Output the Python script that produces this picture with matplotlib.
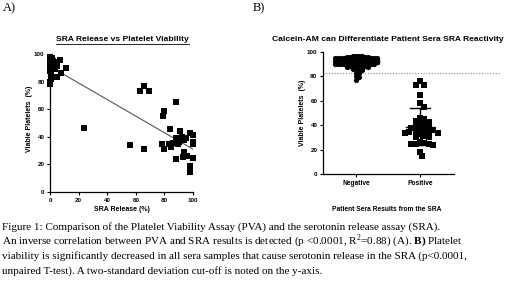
import numpy as np
import matplotlib
matplotlib.use("Agg")
import matplotlib.pyplot as plt
from matplotlib.lines import Line2D

plt.rcParams['font.family'] = ['Liberation Sans', 'DejaVu Sans']
plt.rcParams['mathtext.fontset'] = 'custom'
plt.rcParams['mathtext.rm'] = 'Liberation Serif'
plt.rcParams['mathtext.bf'] = 'Liberation Serif:bold'

# Panel A: SRA release vs viable platelets
sra_release = [0, 0, 0.5, 0, 1, 0, 1.5, 2, 3, 2, 3.5, 4, 5, 1, 7, 11, 8, 4.7, 1, 0, 0, 2.5, 0.5,
               24, 56, 63, 65.4, 69, 66, 80, 79, 88, 78, 79.4, 83.6, 83, 84.6, 86, 88, 88, 89.5,
               90.6, 91, 92, 93.5, 93.5, 93, 95, 95.8, 98, 97.7, 97.7, 100, 100, 100, 100, 90, 89]
viable = [98, 96, 94, 92, 90, 88, 97, 95, 93, 91, 89, 94, 91, 86, 95.6, 89.6, 86, 83.5, 82, 80, 78, 92, 89,
          46.5, 34.4, 73.4, 76.8, 73.4, 31, 59, 55, 65, 35, 31, 46, 35, 32.4, 35.6, 24, 39.5, 35,
          39.5, 44, 40, 37.5, 29, 25.4, 39, 26.4, 43, 19, 14.5, 41, 36, 35, 25, 36, 37]
fit_x = [0, 100]
fit_y = [91, 31]

# Panel B: viable platelets by SRA result
groups = ['Negative', 'Positive']
negative = [97, 97, 96.5, 96.5, 96, 96, 96, 96, 95.5, 95.5, 95.5, 95, 95, 95, 95, 94.5, 94.5,
            94.5, 94, 94, 94, 94, 93.5, 93.5, 93.5, 93.5, 93, 93, 93, 93, 93, 92.5, 92.5, 92.5,
            92.5, 92, 92, 92, 92, 92, 91.5, 91.5, 91.5, 91.5, 91, 91, 91, 91, 90.5, 90.5, 90.5,
            90, 90, 90, 89.5, 89.5, 89, 89, 88.5, 88.5, 88, 87.5, 87, 86.5, 86, 85.5,
            83, 82.5, 80.3, 79.3, 77]
positive = [76, 73, 73, 65, 58, 55, 46, 45.5, 43.5, 43, 41, 40, 39, 39, 38, 37, 36.5, 35, 35,
            34.5, 34.5, 34, 34, 33, 31, 30.5, 30, 26, 25.5, 25, 25, 24.5, 24, 18, 14.5]
cutoff = 83

caption = [
    "Figure 1: Comparison of the Platelet Viability Assay (PVA) and the serotonin release assay (SRA).",
    r"An inverse correlation between PVA and SRA results is detected (p <0.0001, R$^{2}$=0.88) (A). $\mathbf{B)}$ Platelet",
    "viability is significantly decreased in all sera samples that cause serotonin release in the SRA (p<0.0001,",
    "unpaired T-test). A two-standard deviation cut-off is noted on the y-axis.",
]


def swarm(ax, center, values, diam, maxw):
    # simple beeswarm in pixel space, points pushed to the gutter when too wide
    pts = ax.transData.transform([(center, v) for v in values])
    cx = pts[0, 0]
    placed = []
    xs = []
    for y in pts[:, 1]:
        step = diam * 0.5
        k = 0
        while True:
            off = ((k + 1) // 2) * step * (1 if k % 2 else -1)
            if abs(off) > maxw:
                off = maxw * np.sign(off)
                break
            if all((off - px) ** 2 + (y - py) ** 2 >= diam ** 2 for px, py in placed):
                break
            k += 1
        placed.append((off, y))
        xs.append(cx + off)
    return ax.transData.inverted().transform(np.column_stack([xs, pts[:, 1]]))


def style_axis(ax):
    ax.spines['top'].set_visible(False)
    ax.spines['right'].set_visible(False)
    for s in ['left', 'bottom']:
        ax.spines[s].set_linewidth(0.9)
    ax.tick_params(length=2.5, width=0.8, pad=1.5, labelsize=4.5)
    ax.set_yticks(range(0, 101, 20))
    for lab in ax.get_yticklabels() + ax.get_xticklabels():
        lab.set_fontweight('bold')


fig = plt.figure(figsize=(5.2, 2.96), dpi=100)

# ---- panel A ----
axA = fig.add_axes([0.0962, 0.3514, 0.275, 0.466])
axA.scatter(sra_release, viable, marker='s', s=16, c='black', linewidths=0, clip_on=False, zorder=3)
axA.plot(fit_x, fit_y, color='#555555', lw=0.8, zorder=2)
axA.set_xlim(0, 100)
axA.set_ylim(0, 100)
axA.set_xticks(range(0, 101, 20))
style_axis(axA)

# ---- panel B ----
axB = fig.add_axes([0.621, 0.412, 0.252, 0.412])
axB.set_xlim(-0.516, 1.53)
axB.set_ylim(0, 100)
neg_xy = swarm(axB, 0, sorted(negative, reverse=True), 3.0, 21)
pos_xy = swarm(axB, 1, sorted(positive, reverse=True), 4.4, 20)
axB.scatter(neg_xy[:, 0], neg_xy[:, 1], marker='o', s=14, c='black', linewidths=0, clip_on=False, zorder=3)
axB.scatter(pos_xy[:, 0], pos_xy[:, 1], marker='s', s=13, c='black', linewidths=0, clip_on=False, zorder=3)
for i, vals in enumerate([negative, positive]):
    m = np.mean(vals)
    sd = np.std(vals, ddof=1)
    axB.plot([i - 0.22, i + 0.22], [m, m], color='black', lw=1.0, zorder=4)
    axB.plot([i, i], [m - sd, m + sd], color='black', lw=1.0, zorder=4)
    for yv in (m - sd, m + sd):
        axB.plot([i - 0.16, i + 0.16], [yv, yv], color='black', lw=1.0, zorder=4)
axB.plot([-0.516, 2.25], [cutoff, cutoff], color='#888888', lw=0.8, ls=(0, (1, 1.5)), clip_on=False, zorder=1)
axB.set_xticks([0, 1])
axB.set_xticklabels(groups)
style_axis(axB)
for lab in axB.get_xticklabels():
    lab.set_fontsize(4.8)

# titles and labels
tA = fig.text(0.235, 0.868, "SRA Release vs Platelet Viability", ha='center', va='center',
              fontsize=6.1, fontweight='bold')
fig.text(0.746, 0.868, "Calcein-AM can Differentiate Patient Sera SRA Reactivity", ha='center',
         va='center', fontsize=6.1, fontweight='bold')
fig.text(0.056, 0.6, "Viable Platelets  (%)", rotation=90, ha='center', va='center',
         fontsize=5, fontweight='bold')
fig.text(0.581, 0.618, "Viable Platelets  (%)", rotation=90, ha='center', va='center',
         fontsize=5, fontweight='bold')
fig.text(0.235, 0.291, "SRA Release (%)", ha='center', va='center', fontsize=5, fontweight='bold')
fig.text(0.744, 0.291, "Patient Sera Results from the SRA", ha='center', va='center',
         fontsize=4.8, fontweight='bold')
fig.text(0.006, 0.973, "A)", ha='left', va='center', fontsize=9, family='Liberation Serif')
fig.text(0.485, 0.973, "B)", ha='left', va='center', fontsize=9, family='Liberation Serif')

for i, line in enumerate(caption):
    fig.text(0.004, 0.225 - i * 0.0495, line, ha='left', va='baseline', fontsize=8.0,
             family='Liberation Serif')

# underline the panel A title
fig.canvas.draw()
bb = tA.get_window_extent().transformed(fig.transFigure.inverted())
fig.add_artist(Line2D([bb.x0, bb.x1], [bb.y0 - 0.004, bb.y0 - 0.004], color='black', lw=0.6))

fig.savefig("out.png", dpi=100)
